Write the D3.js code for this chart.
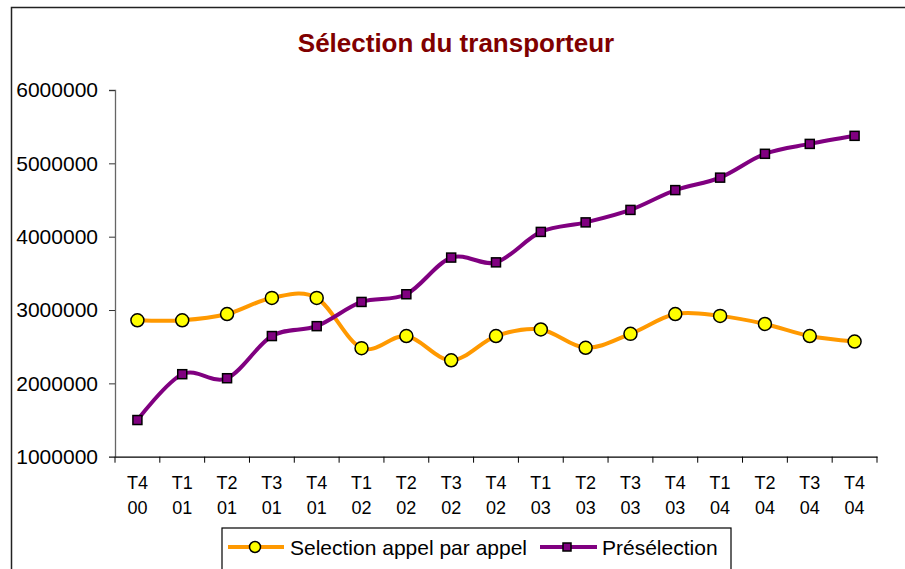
<!DOCTYPE html>
<html>
<head>
<meta charset="utf-8">
<script src="https://cdn.jsdelivr.net/npm/d3@7"></script>
<style>
  body { margin: 0; background: #fff; }
  svg { display: block; font-family: "Liberation Sans", Arial, sans-serif; }
</style>
</head>
<body>
<svg id="chart" width="905" height="569"></svg>
<script>
// quarters, two label lines each
const quarters = ['T4 00', 'T1 01', 'T2 01', 'T3 01', 'T4 01', 'T1 02', 'T2 02', 'T3 02', 'T4 02',
    'T1 03', 'T2 03', 'T3 03', 'T4 03', 'T1 04', 'T2 04', 'T3 04', 'T4 04'];

const appelParAppel = [2860000, 2860000, 2945000, 3165000, 3165000, 2480000, 2645000, 2315000, 2645000,
    2735000, 2485000, 2675000, 2945000, 2920000, 2810000, 2645000, 2570000];

const preselection = [1500000, 2125000, 2070000, 2645000, 2780000, 3110000, 3215000, 3715000, 3650000,
    4065000, 4195000, 4365000, 4635000, 4805000, 5130000, 5265000, 5375000];

const yTicks = [1000000, 2000000, 3000000, 4000000, 5000000, 6000000];

const seriesNames = ['Selection appel par appel', 'Présélection'];

const svg = d3.select('#chart');

const plotLeft = 115, plotRight = 877, plotTop = 90, plotBottom = 456.7;

const x = d3.scaleBand().domain(quarters).range([plotLeft, plotRight]);
const y = d3.scaleLinear().domain([1000000, 6000000]).range([plotBottom, plotTop]);

// chart frame (only top & left edges visible)
svg.append('path')
    .attr('d', 'M11.5,575 L11.5,7.5 L910,7.5')
    .attr('fill', 'none')
    .attr('stroke', '#222')
    .attr('stroke-width', 1.5);

// title
svg.append('text')
    .attr('x', 456)
    .attr('y', 52)
    .attr('text-anchor', 'middle')
    .attr('font-size', 26)
    .attr('font-weight', 'bold')
    .attr('fill', '#800000')
    .text('Sélection du transporteur');

// y axis
const yAxis = svg.append('g')
    .attr('transform', `translate(${plotLeft},0)`)
    .call(d3.axisLeft(y).tickValues(yTicks).tickSize(6).tickPadding(11).tickFormat(d3.format('d')));
yAxis.select('.domain').attr('stroke', '#666').attr('stroke-width', 1.3);
yAxis.selectAll('.tick line').attr('stroke', '#333');
yAxis.selectAll('text')
    .attr('font-size', 21)
    .attr('font-family', '"Liberation Sans", Arial, sans-serif')
    .attr('fill', '#000');

// x axis
const xAxis = svg.append('g')
    .attr('transform', `translate(0,${plotBottom})`)
    .call(d3.axisBottom(x).tickSize(0).tickFormat(''));
xAxis.select('.domain').attr('stroke', '#000').attr('stroke-width', 1.3);

const bounds = quarters.map(q => x(q)).concat([x.range()[1]]);
xAxis.selectAll('line.bound')
    .data(bounds)
    .enter()
    .append('line')
    .attr('class', 'bound')
    .attr('x1', d => d)
    .attr('x2', d => d)
    .attr('y1', 0)
    .attr('y2', 6)
    .attr('stroke', '#000');

const xLabels = svg.append('g')
    .selectAll('text')
    .data(quarters)
    .enter()
    .append('text')
    .attr('text-anchor', 'middle')
    .attr('font-size', 18)
    .attr('fill', '#000');
xLabels.append('tspan')
    .attr('x', d => x(d) + x.bandwidth() / 2)
    .attr('y', 489)
    .text(d => d.split(' ')[0]);
xLabels.append('tspan')
    .attr('x', d => x(d) + x.bandwidth() / 2)
    .attr('y', 513.5)
    .text(d => d.split(' ')[1]);

const cx = d => x(d) + x.bandwidth() / 2;

const line = d3.line()
    .x(d => cx(d.q))
    .y(d => y(d.v))
    .curve(d3.curveCardinal.tension(0));

const orangeData = quarters.map((q, i) => ({ q: q, v: appelParAppel[i] }));
const purpleData = quarters.map((q, i) => ({ q: q, v: preselection[i] }));

svg.append('path')
    .datum(orangeData)
    .attr('d', line)
    .attr('fill', 'none')
    .attr('stroke', '#FF9900')
    .attr('stroke-width', 4);

svg.append('path')
    .datum(purpleData)
    .attr('d', line)
    .attr('fill', 'none')
    .attr('stroke', '#800080')
    .attr('stroke-width', 4);

svg.selectAll('rect.pt')
    .data(purpleData)
    .enter()
    .append('rect')
    .attr('class', 'pt')
    .attr('x', d => cx(d.q) - 4.5)
    .attr('y', d => y(d.v) - 4.5)
    .attr('width', 9)
    .attr('height', 9)
    .attr('fill', '#800080')
    .attr('stroke', '#000')
    .attr('stroke-width', 1.5);

svg.selectAll('circle.pt')
    .data(orangeData)
    .enter()
    .append('circle')
    .attr('class', 'pt')
    .attr('cx', d => cx(d.q))
    .attr('cy', d => y(d.v))
    .attr('r', 6.5)
    .attr('fill', '#FFFF00')
    .attr('stroke', '#000')
    .attr('stroke-width', 1.5);

// legend
const legend = svg.append('g');
legend.append('rect')
    .attr('x', 222)
    .attr('y', 528)
    .attr('width', 509)
    .attr('height', 60)
    .attr('fill', '#fff')
    .attr('stroke', '#000')
    .attr('stroke-width', 1.2);

legend.append('line')
    .attr('x1', 228).attr('x2', 284).attr('y1', 547).attr('y2', 547)
    .attr('stroke', '#FF9900').attr('stroke-width', 4);
legend.append('circle')
    .attr('cx', 255).attr('cy', 547).attr('r', 5.5)
    .attr('fill', '#FFFF00').attr('stroke', '#000').attr('stroke-width', 1.5);
legend.append('text')
    .attr('x', 290).attr('y', 554.5)
    .attr('font-size', 21)
    .text(seriesNames[0]);

legend.append('line')
    .attr('x1', 540).attr('x2', 597).attr('y1', 547).attr('y2', 547)
    .attr('stroke', '#800080').attr('stroke-width', 4);
legend.append('rect')
    .attr('x', 563).attr('y', 543).attr('width', 8).attr('height', 8)
    .attr('fill', '#800080').attr('stroke', '#000').attr('stroke-width', 1.5);
legend.append('text')
    .attr('x', 602).attr('y', 554.5)
    .attr('font-size', 21)
    .text(seriesNames[1]);
</script>
</body>
</html>
